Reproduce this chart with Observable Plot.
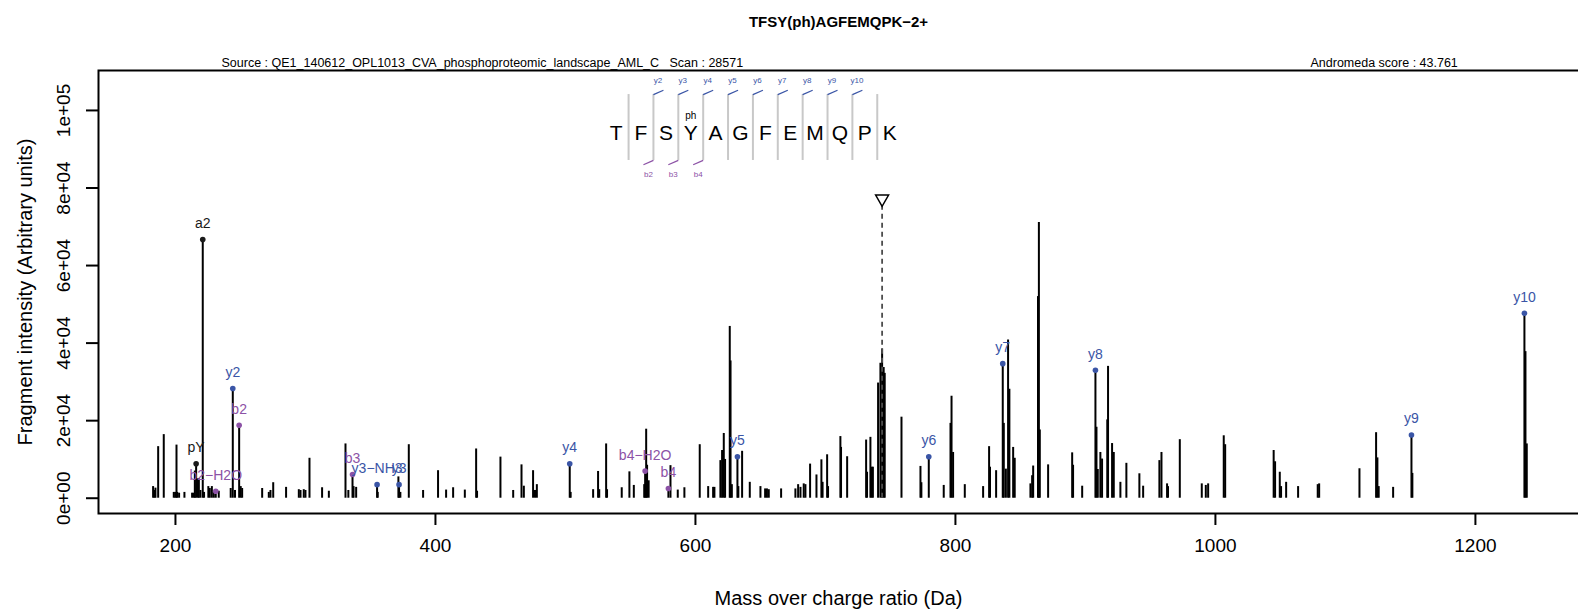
<!DOCTYPE html>
<html><head><meta charset="utf-8">
<script src="https://cdn.jsdelivr.net/npm/d3@7"></script>
<script src="https://cdn.jsdelivr.net/npm/@observablehq/plot@0.6"></script>
<style>
body{margin:0;background:#fff;overflow:hidden}
</style></head><body><div id="chart"></div>
<script>
const title = "TFSY(ph)AGFEMQPK\u22122+";
const sourceText = "Source : QE1_140612_OPL1013_CVA_phosphoproteomic_landscape_AML_C   Scan : 28571";
const scoreText = "Andromeda score : 43.761";
const xTitle = "Mass over charge ratio (Da)";
const yTitle = "Fragment intensity (Arbitrary units)";
const xTicks = [200, 400, 600, 800, 1000, 1200];
const xTickLabels = ["200", "400", "600", "800", "1000", "1200"];
const yTicks = [0, 20000, 40000, 60000, 80000, 100000];
const yTickLabels = ["0e+00", "2e+04", "4e+04", "6e+04", "8e+04", "1e+05"];

// spectrum peaks (m/z, intensity)
const peakMz = [182.8,183.8,184.6,186.7,191.0,198.7,199.8,200.8,201.3,202.8,206.9,212.8,214.1,214.9,215.9,217.2,218.0,219.2,221.0,222.0,
225.3,226.4,228.0,229.5,231.0,233.3,242.5,244.1,245.8,249.0,250.2,251.3,266.7,271.8,273.1,275.2,285.1,294.9,296.2,298.7,
300.0,303.1,312.8,318.0,330.8,333.0,336.2,337.0,339.0,355.1,355.6,371.5,372.0,373.0,379.5,390.5,402.0,408.2,413.6,422.6,
431.3,432.0,450.0,459.8,466.2,468.0,475.1,476.6,478.0,503.3,504.0,521.3,525.1,526.0,531.3,532.0,543.3,549.2,552.6,560.6,
561.3,562.1,562.8,564.0,579.2,580.8,586.4,591.5,603.3,609.8,613.6,614.6,619.2,620.5,621.8,622.8,626.4,627.0,628.0,632.3,
633.0,635.9,641.8,650.0,653.6,655.0,656.4,665.9,676.9,679.0,680.8,683.3,684.6,688.2,693.1,696.9,697.8,701.3,702.0,711.5,
712.0,716.7,731.3,732.0,734.6,735.5,736.5,740.5,742.3,743.6,744.8,745.6,758.5,773.1,773.8,779.5,791.0,796.2,797.0,798.2,
807.2,821.3,825.9,826.6,831.3,836.4,837.2,838.8,840.5,841.5,844.4,845.6,857.7,859.0,859.8,863.5,864.2,864.9,871.3,889.8,
890.5,897.5,907.7,908.5,909.5,911.5,912.8,916.8,917.4,920.5,921.8,926.9,931.5,941.5,944.4,956.9,958.5,962.8,963.5,972.6,
989.5,992.6,994.4,1006.4,1007.5,1044.8,1045.9,1049.5,1050.5,1054.4,1063.6,1078.7,1079.8,1110.8,1123.6,1124.6,1125.6,1136.7,1150.8,1151.5,
1237.7,1238.5,1239.5];
const peakIntensity = [3000,2000,2600,13300,16400,1500,1500,13700,1500,1300,1500,1300,1300,7000,8900,5000,5000,2000,66700,1500,
3000,2500,3000,1500,1800,1800,2500,28300,2000,18800,3000,2500,2500,1500,2000,4000,2800,2200,2000,2200,
2000,10300,2700,1800,14000,2000,6100,3000,2800,3500,1500,5500,3500,1500,13800,2000,7100,2100,2700,2100,
12700,1800,10600,2000,8600,3100,7100,2000,3500,8900,1500,2200,6900,2200,14000,2200,2700,6800,3300,3500,
7000,17800,8500,4500,2500,8400,2100,2700,13800,3000,2800,2800,9700,12300,16700,10000,44300,35400,3500,10700,
3000,12100,4100,3000,2400,2400,2200,2400,2400,3500,2800,3700,3500,8800,6000,9900,4100,11200,3000,15900,
13100,10700,15000,6700,15700,8000,8000,29700,34800,38500,33700,32200,20900,8200,4000,10700,3300,19300,26300,11800,
3500,3000,13300,8000,7100,34700,19300,7500,40800,28100,13100,10300,3700,5800,8300,52000,71100,17600,8600,11700,
8500,3100,33000,18300,7400,11800,10100,20200,34000,14100,11800,4100,9000,6300,3100,9700,11800,3700,3000,15100,
3700,3300,3700,16100,13800,12300,9400,6700,3000,4100,3000,3500,3700,7600,16900,10400,3000,2800,16300,6400,
47700,37800,14000];

// annotated fragment ions
const ionLabel = ["a2","pY","b2\u2212H2O","y2","b2","b3","y3\u2212NH3","y3","y4","b4\u2212H2O","b4","y5","y6","y7","y8","y9","y10"];
const ionMz = [221.0,215.9,231.0,244.1,249.0,336.2,355.1,372.0,503.3,561.3,579.2,632.3,779.5,836.4,907.7,1150.8,1237.7];
const ionIntensity = [66700,8900,1800,28300,18800,6100,3500,3500,8900,7000,2500,10700,10700,34700,33000,16300,47700];
const ionSeries = ["other","other","b","y","b","b","y","y","y","b","b","y","y","y","y","y","y"];

// peptide sequence annotation
const residues = ["T","F","S","Y","A","G","F","E","M","Q","P","K"];
const ySites = [2,3,4,5,6,7,8,9,10];
const yLabels = ["y2","y3","y4","y5","y6","y7","y8","y9","y10"];
const bSites = [2,3,4];
const bLabels = ["b2","b3","b4"];
const modSite = 3, modLabel = "ph";
const precursorMz = 743.6;

// layout (data units)
const seqStart = 539.0, seqStep = 19.13;
const letterY = 94000, sepTop = 104100, sepBottom = 87100;
const diagDx = 7.7, diagDy = 1100;
const yLabY = 107800, bLabY = 83500, modY = 98500;
const precursorTop = 76000, triangleY = 77200;

const blue = "#3a55a6", purple = "#8c52a6";
const sepX = k => seqStart + (k - 0.5) * seqStep;

const peaks = peakMz.map((mz, i) => ({mz, intensity: peakIntensity[i]}));
const ions = ionLabel.map((label, i) => ({label, mz: ionMz[i], intensity: ionIntensity[i], series: ionSeries[i]}));

const font = "'Liberation Sans', Arial, Helvetica, sans-serif";

const chart = Plot.plot({
  width: 1578,
  height: 611,
  marginTop: 70,
  marginBottom: 98,
  marginLeft: 98,
  marginRight: 0,
  style: {fontFamily: font, background: "white", color: "black"},
  x: {domain: [140.8, 1279.3]},
  y: {domain: [-3940, 110300]},
  color: {domain: ["y", "b", "other"], range: [blue, purple, "#1a1a1a"]},
  marks: [
    Plot.frame({stroke: "black", strokeWidth: 2, insetRight: -6}),
    Plot.axisX({ticks: xTicks, tickSize: 12, tickPadding: 13, fontSize: 19, label: null, strokeWidth: 2, anchor: "bottom",
      tickFormat: d => xTickLabels[xTicks.indexOf(d)]}),
    Plot.axisY({ticks: yTicks, tickSize: 12, tickFormat: () => "", label: null, strokeWidth: 2, anchor: "left"}),
    Plot.text(yTicks, {y: d => d, text: (d, i) => yTickLabels[i], frameAnchor: "left", dx: -35, rotate: -90, fontSize: 19, textAnchor: "middle", lineAnchor: "middle"}),
    Plot.text([xTitle], {frameAnchor: "bottom", dy: 85, fontSize: 20, lineAnchor: "middle"}),
    Plot.text([yTitle], {frameAnchor: "left", dx: -73, rotate: -90, fontSize: 20, textAnchor: "middle", lineAnchor: "middle"}),
    Plot.text([title], {frameAnchor: "top", dy: -48, fontSize: 15, fontWeight: "bold", lineAnchor: "middle"}),
    Plot.text([sourceText], {frameAnchor: "top-left", dx: 123, dy: -8, fontSize: 12.5, textAnchor: "start", lineAnchor: "middle"}),
    Plot.text([scoreText], {frameAnchor: "top-left", dx: 1212, dy: -8, fontSize: 12.5, textAnchor: "start", lineAnchor: "middle"}),
    // spectrum
    Plot.ruleX(peaks, {x: "mz", y1: () => 0, y2: "intensity", stroke: "black", strokeWidth: 2}),
    // precursor
    Plot.ruleX([precursorMz], {x: d => d, y1: () => 0, y2: () => precursorTop, stroke: "#4d4d4d", strokeWidth: 1.8, strokeDasharray: "5,4"}),
    Plot.dot([precursorMz], {x: d => d, y: () => triangleY, symbol: "triangle", rotate: 180, r: 4.8, fill: "white", stroke: "black", strokeWidth: 1.5}),
    // annotated ions
    Plot.dot(ions, {x: "mz", y: "intensity", fill: "series", r: 2.8}),
    Plot.text(ions, {x: "mz", y: "intensity", text: "label", fill: "series", dy: -16, fontSize: 14}),
    // sequence
    Plot.ruleX(d3.range(1, residues.length), {x: k => sepX(k), y1: () => sepBottom, y2: () => sepTop, stroke: "#c8c8c8", strokeWidth: 2}),
    Plot.text(residues, {x: (d, i) => seqStart + i * seqStep, y: () => letterY, text: d => d, fontSize: 21}),
    Plot.text([modLabel], {x: () => seqStart + modSite * seqStep, y: () => modY, text: d => d, fontSize: 10}),
    Plot.link(ySites, {x1: k => sepX(k), y1: () => sepTop, x2: k => sepX(k) + diagDx, y2: () => sepTop + diagDy, stroke: blue, strokeWidth: 1.3}),
    Plot.text(ySites, {x: k => sepX(k) + diagDx * 0.45, y: () => yLabY, text: (k, i) => yLabels[i], fill: blue, fontSize: 8}),
    Plot.link(bSites, {x1: k => sepX(k), y1: () => sepBottom, x2: k => sepX(k) - diagDx, y2: () => sepBottom - diagDy, stroke: purple, strokeWidth: 1.3}),
    Plot.text(bSites, {x: k => sepX(k) - diagDx * 0.5, y: () => bLabY, text: (k, i) => bLabels[i], fill: purple, fontSize: 8})
  ]
});
document.getElementById("chart").appendChild(chart);
</script>
</body></html>
